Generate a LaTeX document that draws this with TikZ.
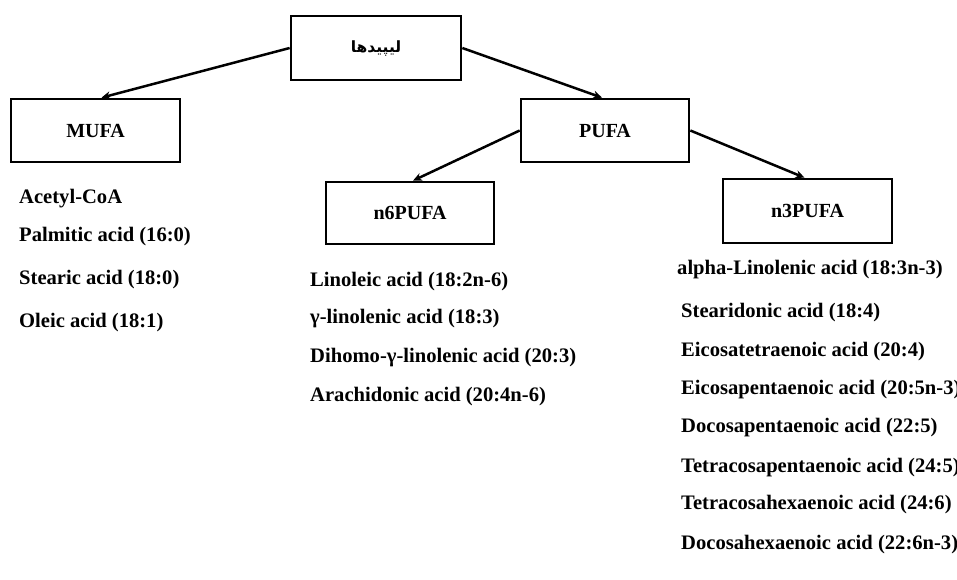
\documentclass[tikz,border=0pt]{standalone}
\usepackage{fontspec}
\setmainfont{Liberation Serif}
\newfontfamily\arabicfont[Script=Arabic]{DejaVu Sans}
\TeXXeTstate=1
\usetikzlibrary{arrows.meta}

\begin{document}
\begin{tikzpicture}[x=1pt, y=-1pt, font=\fontsize{20.6}{24}\selectfont\bfseries,
	box/.style={draw, line width=2.7pt, minimum width=#1, minimum height=63pt, inner sep=0pt, font=\fontsize{20}{24}\selectfont\bfseries},
	acid/.style={anchor=west, inner sep=0pt},
	link/.style={line width=2.5pt, -{Stealth[length=9pt,width=8pt]}}]
	\useasboundingbox (0,0) rectangle (957,579);
	\node[box=170pt, minimum height=64pt] (lip) at (376,48) {\arabicfont\fontsize{15.5}{18}\selectfont\bfseries\beginR لیپیدها\endR};
	\node[box=169pt] (mufa) at (95.5,130.5) {MUFA};
	\node[box=168pt] (pufa) at (605,130.5) {PUFA};
	\node[box=168pt, minimum height=62pt] (n6) at (410,213) {n6PUFA};
	\node[box=169pt, minimum height=64pt] (n3) at (807.5,211) {n3PUFA};
	\draw[link] (lip.west) -- ([xshift=6pt]mufa.north);
	\draw[link] (lip.east) -- ([xshift=-3pt]pufa.north);
	\draw[link] (pufa.west) -- ([xshift=3pt]n6.north);
	\draw[link] (pufa.east) -- ([xshift=-3pt]n3.north);
	\node[acid] (m1) at (19,199) {Acetyl-CoA};
	\node[acid] (m2) at (19,237) {Palmitic acid (16:0)};
	\node[acid] (m3) at (19,280) {Stearic acid (18:0)};
	\node[acid] (m4) at (19,323) {Oleic acid (18:1)};
	\node[acid] (s1) at (310,282) {Linoleic acid (18:2n-6)};
	\node[acid] (s2) at (310,319) {γ-linolenic acid (18:3)};
	\node[acid] (s3) at (310,358) {Dihomo-γ-linolenic acid (20:3)};
	\node[acid] (s4) at (310,397) {Arachidonic acid (20:4n-6)};
	\node[acid] (t1) at (677,270) {alpha-Linolenic acid (18:3n-3)};
	\node[acid] (t2) at (681,313) {Stearidonic acid (18:4)};
	\node[acid] (t3) at (681,352) {Eicosatetraenoic acid (20:4)};
	\node[acid] (t4) at (681,390) {Eicosapentaenoic acid (20:5n-3)};
	\node[acid] (t5) at (681,428) {Docosapentaenoic acid (22:5)};
	\node[acid] (t6) at (681,468) {Tetracosapentaenoic acid (24:5)};
	\node[acid] (t7) at (681,505) {Tetracosahexaenoic acid (24:6)};
	\node[acid] (t8) at (681,545) {Docosahexaenoic acid (22:6n-3)};
\end{tikzpicture}
\end{document}
